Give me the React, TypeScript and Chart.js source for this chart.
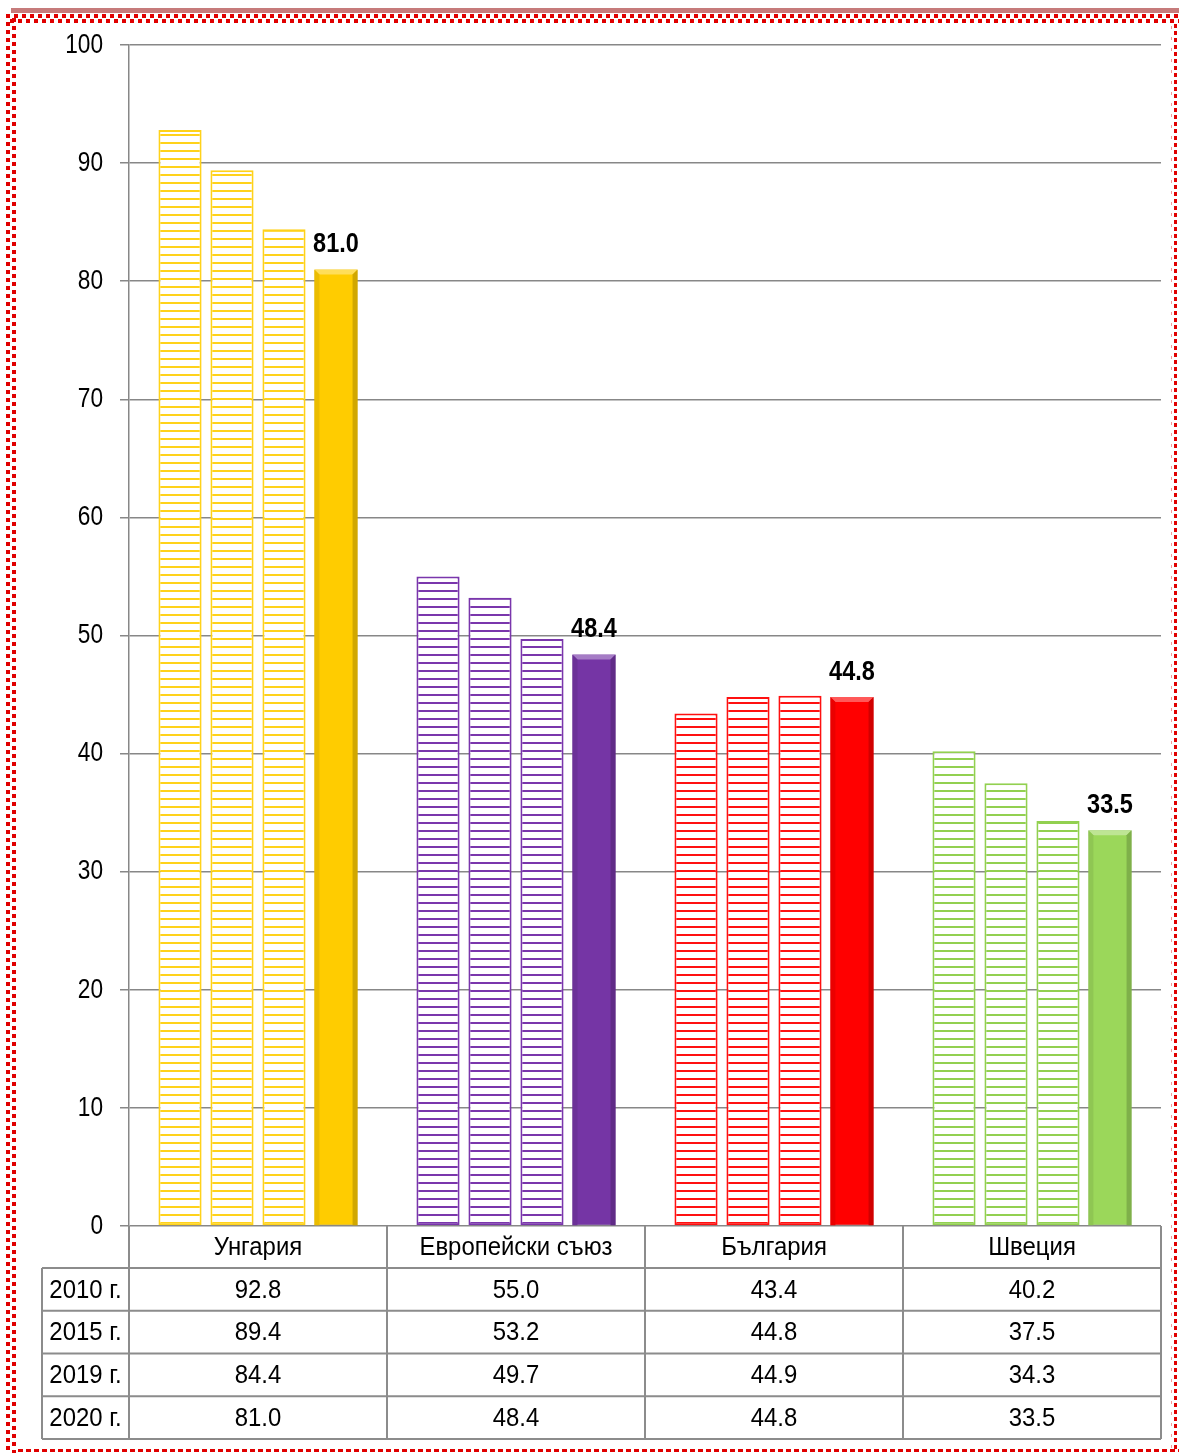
import React, { useEffect, useRef } from "react";
import { Chart, registerables } from "chart.js";

Chart.register(...registerables);

const categories = ["Унгария", "Европейски съюз", "България", "Швеция"];
const seriesLabels = ["2010 г.", "2015 г.", "2019 г.", "2020 г."];
const values2010 = [92.8, 55.0, 43.4, 40.2];
const values2015 = [89.4, 53.2, 44.8, 37.5];
const values2019 = [84.4, 49.7, 44.9, 34.3];
const values2020 = [81.0, 48.4, 44.8, 33.5];
const yTicks = [0, 10, 20, 30, 40, 50, 60, 70, 80, 90, 100];
const yMin = 0;
const yMax = 100;
const yStep = 10;

const hatchColors = ["#FFD21A", "#7A36AC", "#FF1010", "#92D050"];
const solidColors = ["#FFCC00", "#7535A5", "#FF0000", "#9BD75A"];

const FONT = "'Liberation Sans', Arial, sans-serif";
const GRID = "#878787";
const W = 1179;
const H = 1453;

function makeHatch(color: string): CanvasPattern | string {
  const c = document.createElement("canvas");
  c.width = 8;
  c.height = 8;
  const g = c.getContext("2d");
  if (!g) return color;
  g.fillStyle = "#ffffff";
  g.fillRect(0, 0, 8, 8);
  g.fillStyle = color;
  g.fillRect(0, 6, 8, 2);
  const p = g.createPattern(c, "repeat");
  return p || color;
}

function shade(hex: string, amt: number): string {
  const n = parseInt(hex.slice(1), 16);
  let r = (n >> 16) & 255, gg = (n >> 8) & 255, b = n & 255;
  if (amt >= 0) {
    r = Math.round(r + (255 - r) * amt);
    gg = Math.round(gg + (255 - gg) * amt);
    b = Math.round(b + (255 - b) * amt);
  } else {
    r = Math.round(r * (1 + amt));
    gg = Math.round(gg * (1 + amt));
    b = Math.round(b * (1 + amt));
  }
  return `rgb(${r},${gg},${b})`;
}

function drawText(
  ctx: CanvasRenderingContext2D,
  text: string,
  x: number,
  y: number,
  font: string,
  sx: number,
  align: CanvasTextAlign,
  baseline: CanvasTextBaseline
) {
  ctx.save();
  ctx.translate(x, y);
  ctx.scale(sx, 1);
  ctx.font = font;
  ctx.textAlign = align;
  ctx.textBaseline = baseline;
  ctx.fillStyle = "#000000";
  ctx.fillText(text, 0, 0);
  ctx.restore();
}

const framePlugin = {
  id: "frame",
  beforeDraw(chart: any) {
    const ctx = chart.ctx;
    ctx.save();
    ctx.fillStyle = "#ffffff";
    ctx.fillRect(0, 0, W, H);
    ctx.fillStyle = "#c67b7b";
    ctx.fillRect(11, 8, W - 11, 5);
    ctx.fillStyle = "#e00000";
    for (let x = 6; x < W; x += 8) {
      ctx.fillRect(x, 14, 4, 4);
      ctx.fillRect(x + 4, 19, 4, 4);
    }
    for (let y = 14; y < H - 6; y += 8) {
      ctx.fillRect(6, y, 4, 4);
      ctx.fillRect(12, y + 4, 4, 4);
    }
    for (let y = 24; y < H - 4; y += 7) {
      ctx.fillRect(1174, y, 3, 4);
    }
    ctx.fillStyle = "rgba(224,0,0,0.4)";
    for (let y = 26; y < H - 4; y += 11) {
      ctx.fillRect(1171, y, 1, 3);
    }
    ctx.fillStyle = "#e00000";
    for (let x = 18; x < W - 4; x += 16) {
      ctx.fillRect(x, 1449, 5, 3);
      ctx.fillRect(x + 8, 1449, 5, 3);
    }
    ctx.restore();
  },
};

const barDecorPlugin = {
  id: "barDecor",
  afterDatasetsDraw(chart: any) {
    const ctx = chart.ctx;
    const meta = chart.getDatasetMeta(3);
    ctx.save();
    meta.data.forEach((bar: any, i: number) => {
      const { x, y, base, width } = bar.getProps(["x", "y", "base", "width"], true);
      const l = x - width / 2;
      const r = x + width / 2;
      const col = solidColors[i];
      const bev = 5;
      ctx.fillStyle = shade(col, 0.35);
      ctx.beginPath();
      ctx.moveTo(l, y);
      ctx.lineTo(r, y);
      ctx.lineTo(r - bev, y + bev);
      ctx.lineTo(l + bev, y + bev);
      ctx.closePath();
      ctx.fill();
      ctx.fillStyle = shade(col, -0.18);
      ctx.beginPath();
      ctx.moveTo(r, y);
      ctx.lineTo(r, base);
      ctx.lineTo(r - bev, base);
      ctx.lineTo(r - bev, y + bev);
      ctx.closePath();
      ctx.fill();
      ctx.fillStyle = shade(col, -0.08);
      ctx.beginPath();
      ctx.moveTo(l, y);
      ctx.lineTo(l + bev, y + bev);
      ctx.lineTo(l + bev, base);
      ctx.lineTo(l, base);
      ctx.closePath();
      ctx.fill();
      drawText(ctx, values2020[i].toFixed(1), x, y - 17, `bold 27px ${FONT}`, 0.87, "center", "alphabetic");
    });
    ctx.restore();
  },
};

const tablePlugin = {
  id: "dataTable",
  afterDraw(chart: any) {
    const ctx = chart.ctx;
    const area = chart.chartArea;
    const yScale = chart.scales.y;
    // y tick labels
    yTicks.forEach((v) => {
      drawText(ctx, String(v), area.left - 26, yScale.getPixelForValue(v), `28px ${FONT}`, 0.81, "right", "middle");
    });

    const left = area.left;
    const right = area.right;
    const top = area.bottom;
    const catW = (right - left) / categories.length;
    const headLeft = 42;
    const catRowH = 42;
    const rowH = 42.75;
    const rows = [values2010, values2015, values2019, values2020];
    const bottom = top + catRowH + rowH * rows.length;
    ctx.save();
    ctx.strokeStyle = "#8c8c8c";
    ctx.lineWidth = 2;
    ctx.beginPath();
    for (let i = 0; i <= categories.length; i++) {
      const x = left + i * catW;
      ctx.moveTo(x, top);
      ctx.lineTo(x, bottom);
    }
    ctx.moveTo(headLeft, top + catRowH);
    ctx.lineTo(headLeft, bottom);
    for (let r = 0; r <= rows.length; r++) {
      const y = top + catRowH + r * rowH;
      ctx.moveTo(headLeft, y);
      ctx.lineTo(right, y);
    }
    ctx.stroke();
    ctx.restore();

    const tf = `26px ${FONT}`;
    const sx = 0.92;
    categories.forEach((c, i) => {
      drawText(ctx, c, left + (i + 0.5) * catW, top + catRowH / 2 + 1, tf, sx, "center", "middle");
    });
    rows.forEach((vals, r) => {
      const cy = top + catRowH + (r + 0.5) * rowH + 1;
      drawText(ctx, seriesLabels[r], (headLeft + left) / 2, cy, tf, sx, "center", "middle");
      vals.forEach((v, i) => {
        drawText(ctx, v.toFixed(1), left + (i + 0.5) * catW, cy, tf, sx, "center", "middle");
      });
    });
  },
};

export default function App() {
  const ref = useRef<HTMLCanvasElement | null>(null);

  useEffect(() => {
    const canvas = ref.current;
    if (!canvas) return;
    const hatch = hatchColors.map((c) => makeHatch(c));
    const seriesValues = [values2010, values2015, values2019, values2020];
    const datasets = seriesValues.map((vals, s) => {
      const solid = s === 3;
      return {
        label: seriesLabels[s],
        data: vals,
        backgroundColor: solid ? solidColors : hatch,
        borderColor: solid ? solidColors.map((c) => shade(c, -0.15)) : hatchColors,
        borderWidth: solid ? 1 : 2,
        borderSkipped: false,
        categoryPercentage: 0.806,
        barPercentage: 0.83,
      };
    });

    const chart = new Chart(canvas, {
      type: "bar",
      data: { labels: categories, datasets: datasets as any },
      options: {
        animation: false,
        responsive: false,
        devicePixelRatio: 1,
        layout: { padding: { left: 0, right: 18, top: 45, bottom: 227 } },
        plugins: {
          legend: { display: false },
          tooltip: { enabled: false },
        },
        scales: {
          x: {
            display: false,
            grid: { display: false },
          },
          y: {
            min: yMin,
            max: yMax,
            ticks: {
              stepSize: yStep,
              display: false,
            },
            grid: {
              color: GRID,
              lineWidth: 1.5,
              tickLength: 9,
              drawTicks: true,
            },
            border: { color: GRID, width: 1.5 },
            afterFit: (scale: any) => {
              scale.width = 129;
            },
          },
        },
      },
      plugins: [framePlugin, barDecorPlugin, tablePlugin],
    });
    return () => chart.destroy();
  }, []);

  return (
    <div style={{ position: "absolute", left: 0, top: 0, width: W, height: H }}>
      <canvas ref={ref} width={W} height={H} style={{ display: "block", width: W, height: H }} />
    </div>
  );
}
